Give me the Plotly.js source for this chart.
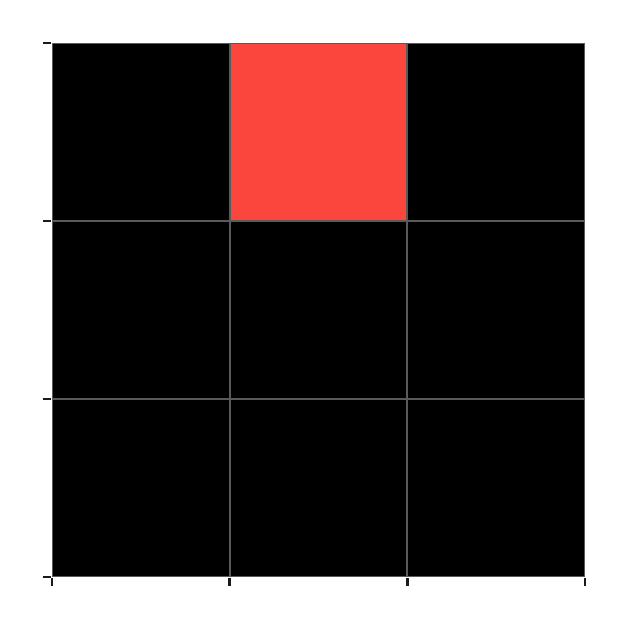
<!DOCTYPE html>
<html>
<head>
<meta charset="utf-8">
<script src="https://cdn.plot.ly/plotly-3.0.1.min.js"></script>
<style>html,body{margin:0;padding:0;background:#fff;}</style>
</head>
<body>
<div id="chart" style="width:629px;height:629px;"></div>
<script>
// Grid data: rows listed top to bottom, 1 = red (active) cell
const colLabels = [0, 1, 2];
const rowLabels = [0, 1, 2];
const row0 = [0, 1, 0]; // top row
const row1 = [0, 0, 0];
const row2 = [0, 0, 0]; // bottom row
const zValues = [row0, row1, row2];
const boundaryTicks = [-0.5, 0.5, 1.5, 2.5];
const emptyTickText = ['', '', '', ''];

const trace = {
  type: 'heatmap',
  x: colLabels,
  y: rowLabels,
  z: zValues,
  zmin: 0,
  zmax: 1,
  colorscale: [[0, '#000000'], [1, '#fb463e']],
  showscale: false,
  xgap: 2,
  ygap: 2,
  hoverinfo: 'skip'
};

const axisCommon = {
  tickmode: 'array',
  tickvals: boundaryTicks,
  ticktext: emptyTickText,
  ticks: 'outside',
  ticklen: 8,
  tickwidth: 2.5,
  tickcolor: '#1a1a1a',
  showgrid: false,
  zeroline: false,
  showline: false
};

const layout = {
  width: 629,
  height: 629,
  margin: {l: 52, r: 44, t: 43, b: 52},
  paper_bgcolor: '#ffffff',
  plot_bgcolor: '#5a5a5a',
  xaxis: Object.assign({}, axisCommon, {range: [-0.5, 2.5]}),
  yaxis: Object.assign({}, axisCommon, {range: [2.5, -0.5]}),
  showlegend: false
};

Plotly.newPlot('chart', [trace], layout, {displayModeBar: false, staticPlot: true});
</script>
</body>
</html>
